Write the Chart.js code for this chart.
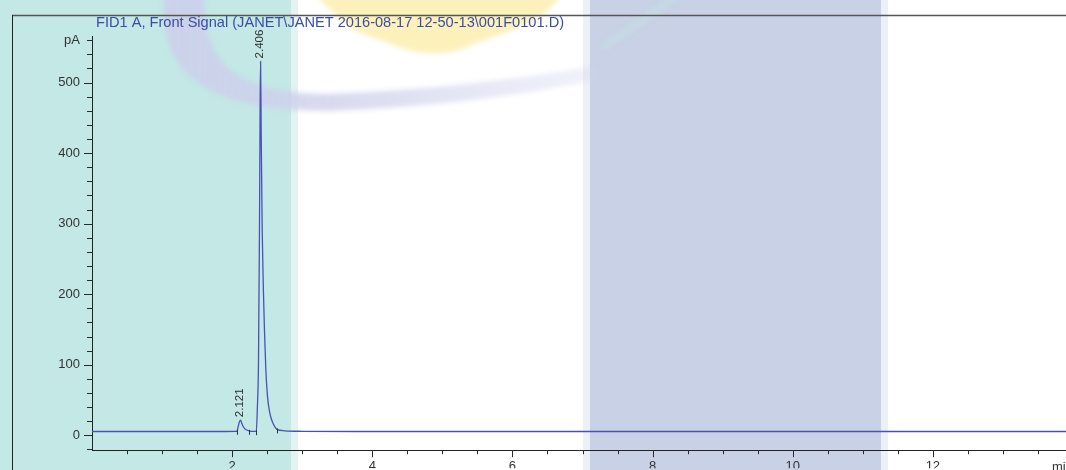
<!DOCTYPE html>
<html>
<head>
<meta charset="utf-8">
<script src="https://cdn.jsdelivr.net/npm/chart.js@4.4.1/dist/chart.umd.min.js"></script>
<style>
  html, body { margin: 0; padding: 0; background: #fff; overflow: hidden; }
  canvas { display: block; }
</style>
</head>
<body>
<canvas id="chromatogram" width="1066" height="470"></canvas>
<script>
// FID1 A front signal: retention time (min) and detector response (pA)
const retentionTimes = [0, 1.0, 1.9, 2.05, 2.07, 2.09, 2.105, 2.121, 2.135, 2.15, 2.175, 2.2, 2.24, 2.3,
  2.345, 2.36, 2.376, 2.39, 2.4, 2.406, 2.414, 2.429, 2.445, 2.461, 2.48, 2.504, 2.535, 2.571, 2.61, 2.64,
  2.75, 3.0, 4.0, 6.0, 8.0, 10.0, 12.0, 13.9];
const signalPA = [5.5, 5.5, 5.5, 5.6, 6.5, 14, 19.5, 21.5, 18, 14, 10, 8, 6.5, 5.6,
  6, 40, 104, 291, 479, 530, 432, 291, 210, 150, 95, 56, 33, 20, 12, 8.5,
  6.5, 5.8, 5.5, 5.5, 5.5, 5.5, 5.5, 5.5];

// integrated peaks: apex time labels and integration start / end marks
const peakApexTimes = [2.121, 2.406];
const peakApexLabels = ['2.121', '2.406'];
const peakStartTimes = [2.07, 2.345];
const peakEndTimes = [2.24, 2.64];

// axis labelling
const xMajorTicks = [2, 4, 6, 8, 10, 12];
const xUnitLabel = 'min';
const yMajorTicks = [0, 100, 200, 300, 400, 500];
const yUnitTick = 560;
const yUnitLabel = 'pA';
const signalTitle = 'FID1 A, Front Signal (JANET\\JANET 2016-08-17 12-50-13\\001F0101.D)';

const FONT = '"Liberation Sans", Arial, sans-serif';

// page decoration behind the plot: coloured side bands and the faint logo
const paperPlugin = {
  id: 'paper',
  beforeDraw(chart) {
    const ctx = chart.ctx, W = chart.width, H = chart.height;
    ctx.save();
    ctx.fillStyle = '#ffffff';
    ctx.fillRect(0, 0, W, H);
    ctx.fillStyle = '#c3e8e6';
    ctx.fillRect(0, 0, 291, H);
    ctx.fillStyle = '#e2f3f2';
    ctx.fillRect(291, 0, 7, H);
    ctx.fillStyle = '#eef0f7';
    ctx.fillRect(583, 0, 7, H);
    ctx.fillRect(881, 0, 7, H);
    ctx.fillStyle = '#c8d1e5';
    ctx.fillRect(590, 0, 291, H);

    ctx.filter = 'blur(2.5px)';
    // yellow crest
    ctx.fillStyle = '#fcf1bb';
    ctx.beginPath();
    ctx.moveTo(316, -4);
    ctx.lineTo(336, 15);
    ctx.lineTo(355, 31);
    ctx.lineTo(388, 43);
    ctx.quadraticCurveTo(437, 64, 476, 43);
    ctx.lineTo(510, 31);
    ctx.lineTo(543, 15);
    ctx.lineTo(562, -4);
    ctx.closePath();
    ctx.fill();

    // lavender swoosh
    const g = ctx.createLinearGradient(160, 0, 600, 0);
    g.addColorStop(0, 'rgba(204,207,234,0.9)');
    g.addColorStop(0.4, 'rgba(206,209,235,0.8)');
    g.addColorStop(1, 'rgba(210,213,237,0.3)');
    ctx.fillStyle = g;
    ctx.beginPath();
    ctx.moveTo(164, -4);
    ctx.bezierCurveTo(160, 72, 200, 110, 330, 111);
    ctx.quadraticCurveTo(470, 106, 595, 80);
    ctx.lineTo(595, 66);
    ctx.quadraticCurveTo(470, 88, 330, 94);
    ctx.bezierCurveTo(232, 94, 203, 60, 204, -4);
    ctx.closePath();
    ctx.fill();

    // teal streak
    ctx.strokeStyle = 'rgba(196,224,228,0.55)';
    ctx.lineWidth = 8;
    ctx.beginPath();
    ctx.moveTo(602, 48);
    ctx.lineTo(680, -6);
    ctx.stroke();
    ctx.restore();
  }
};

// frame, title, tick marks, unit label, peak annotations
const annotatePlugin = {
  id: 'annotate',
  afterDraw(chart) {
    const ctx = chart.ctx, W = chart.width, H = chart.height;
    const xs = chart.scales.x, ys = chart.scales.y;
    const area = chart.chartArea;
    ctx.save();

    // report frame
    ctx.strokeStyle = '#555';
    ctx.lineWidth = 1.5;
    ctx.beginPath();
    ctx.moveTo(12, 15.5);
    ctx.lineTo(W, 15.5);
    ctx.stroke();
    ctx.strokeStyle = '#222';
    ctx.lineWidth = 1;
    ctx.beginPath();
    ctx.moveTo(12.5, 15);
    ctx.lineTo(12.5, H);
    ctx.stroke();

    // title
    ctx.fillStyle = '#3b4ca4';
    ctx.font = '14.6px ' + FONT;
    ctx.textAlign = 'left';
    ctx.textBaseline = 'middle';
    ctx.fillText(signalTitle, 96, 23);

    // tick marks
    ctx.strokeStyle = '#2a2a2a';
    ctx.lineWidth = 1;
    ys.ticks.forEach(t => {
      const py = Math.round(ys.getPixelForValue(t.value)) + 0.5;
      const len = yMajorTicks.includes(t.value) ? 8 : 5;
      ctx.beginPath();
      ctx.moveTo(area.left - len, py);
      ctx.lineTo(area.left, py);
      ctx.stroke();
    });
    xs.ticks.forEach(t => {
      if (t.value === 0) return;
      const px = Math.round(xs.getPixelForValue(t.value)) + 0.5;
      const len = xMajorTicks.includes(t.value) ? 7 : 4;
      ctx.beginPath();
      ctx.moveTo(px, area.bottom);
      ctx.lineTo(px, area.bottom + len);
      ctx.stroke();
    });

    // x unit
    ctx.fillStyle = '#333';
    ctx.font = '13px ' + FONT;
    ctx.textAlign = 'left';
    ctx.textBaseline = 'top';
    ctx.fillText(xUnitLabel, 1052, 461);

    // integration marks at peak start / end
    ctx.strokeStyle = '#333';
    peakStartTimes.concat(peakEndTimes).forEach(t => {
      const i = retentionTimes.indexOf(t);
      const px = Math.round(xs.getPixelForValue(t)) + 0.5;
      const py = ys.getPixelForValue(signalPA[i]);
      ctx.beginPath();
      ctx.moveTo(px, py - 1);
      ctx.lineTo(px, py + 4);
      ctx.stroke();
    });

    // apex retention time labels
    ctx.fillStyle = '#2e2e2e';
    ctx.font = '11.5px ' + FONT;
    ctx.textAlign = 'left';
    ctx.textBaseline = 'middle';
    peakApexTimes.forEach((t, k) => {
      const i = retentionTimes.indexOf(t);
      const px = xs.getPixelForValue(t);
      const py = ys.getPixelForValue(signalPA[i]);
      ctx.save();
      ctx.translate(px - 1, py - 3);
      ctx.rotate(-Math.PI / 2);
      ctx.fillText(peakApexLabels[k], 0, 0);
      ctx.restore();
    });
    ctx.restore();
  }
};

const points = retentionTimes.map((t, i) => ({ x: t, y: signalPA[i] }));

new Chart(document.getElementById('chromatogram'), {
  type: 'line',
  data: {
    datasets: [{
      data: points,
      borderColor: '#4a50b6',
      borderWidth: 1.3,
      pointRadius: 0,
      cubicInterpolationMode: 'monotone',
      fill: false
    }]
  },
  options: {
    responsive: false,
    animation: false,
    devicePixelRatio: 1,
    layout: { padding: { top: 36, left: 0, right: 0, bottom: 0 } },
    plugins: {
      legend: { display: false },
      tooltip: { enabled: false },
      title: { display: false }
    },
    scales: {
      x: {
        type: 'linear',
        min: 0,
        max: 13.9,
        afterFit(scale) { scale.height = 18; },
        grid: { display: true, drawOnChartArea: false, drawTicks: false },
        border: { display: true, color: '#222', width: 1 },
        ticks: {
          stepSize: 0.5,
          includeBounds: false,
          autoSkip: false,
          maxRotation: 0,
          padding: 8,
          color: '#333',
          font: { family: FONT, size: 13 },
          callback: v => xMajorTicks.includes(v) ? String(v) : ''
        }
      },
      y: {
        type: 'linear',
        min: -21,
        max: 566,
        afterFit(scale) { scale.width = 92; },
        grid: { display: true, drawOnChartArea: false, drawTicks: false },
        border: { display: true, color: '#222', width: 1 },
        ticks: {
          stepSize: 20,
          includeBounds: false,
          autoSkip: false,
          padding: 12,
          color: '#333',
          font: { family: FONT, size: 13 },
          callback: v => yMajorTicks.includes(v) ? String(v) : (v === yUnitTick ? yUnitLabel : '')
        }
      }
    }
  },
  plugins: [paperPlugin, annotatePlugin]
});
</script>
</body>
</html>
